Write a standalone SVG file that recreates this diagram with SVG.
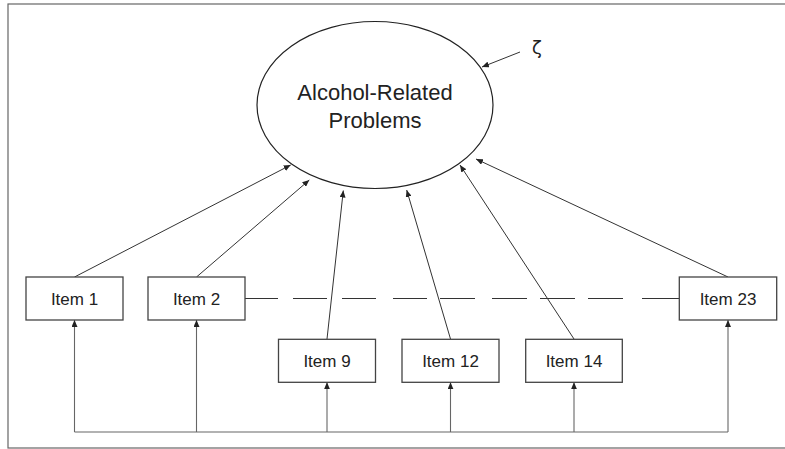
<svg xmlns="http://www.w3.org/2000/svg" width="785" height="449" viewBox="0 0 785 449">
<style>
.box{fill:#fff;stroke:#444;stroke-width:1.3}
.lbl{font-family:"Liberation Sans",Arial,sans-serif;font-size:17px;fill:#222;text-anchor:middle}
.big{font-family:"Liberation Sans",Arial,sans-serif;font-size:22px;fill:#222;text-anchor:middle}
.arr{fill:none;stroke:#333;stroke-width:1;marker-end:url(#ah)}
.up{fill:none;stroke:#666;stroke-width:1.1;marker-end:url(#ah)}
</style>
<defs>
<marker id="ah" markerUnits="userSpaceOnUse" markerWidth="8" markerHeight="6" refX="7" refY="3" orient="auto">
<path d="M0,0 L7,3 L0,6 Z" fill="#222"/>
</marker>
</defs>
<rect x="8" y="4" width="790" height="444" fill="#fff" stroke="#666" stroke-width="1.2"/>
<g id="connectors">
<line class="arr" x1="520" y1="52" x2="482" y2="67"/>
<line class="arr" x1="74.5" y1="277" x2="290.7" y2="165"/>
<line class="arr" x1="196.5" y1="277" x2="309.3" y2="180"/>
<line class="arr" x1="327" y1="339" x2="343.3" y2="190.5"/>
<line class="arr" x1="450.5" y1="339" x2="406.7" y2="190"/>
<line class="arr" x1="574" y1="339" x2="460" y2="165"/>
<line class="arr" x1="728" y1="277" x2="476" y2="159"/>
<path d="M245,298.5 H278 M293,298.5 H327 M342,298.5 H376 M393,298.5 H427 M440,298.5 H475 M492,298.5 H527 M540,298.5 H575 M588,298.5 H623 M642,298.5 H679" fill="none" stroke="#333" stroke-width="1"/>
<path d="M74.5,432 H728" fill="none" stroke="#999" stroke-width="1.5"/>
<line class="up" x1="74.5" y1="432" x2="74.5" y2="320"/>
<line class="up" x1="196.5" y1="432" x2="196.5" y2="320"/>
<line class="up" x1="327" y1="432" x2="327" y2="382.3"/>
<line class="up" x1="450.5" y1="432" x2="450.5" y2="382.3"/>
<line class="up" x1="574" y1="432" x2="574" y2="382.3"/>
<line class="up" x1="728" y1="432" x2="728" y2="320"/>
</g>
<g id="latent">
<ellipse cx="375" cy="105" rx="118" ry="83.5" fill="none" stroke="#222" stroke-width="1.2"/>
<text class="big" x="375" y="100">Alcohol-Related</text>
<text class="big" x="375" y="128">Problems</text>
</g>
<g id="zeta">
<text x="537" y="54" font-family="'DejaVu Sans',sans-serif" font-size="18" fill="#222" text-anchor="middle">ζ</text>
</g>
<g id="item1"><rect class="box" x="26" y="277" width="97" height="43"/><text class="lbl" x="74.5" y="304.5">Item 1</text></g>
<g id="item2"><rect class="box" x="148" y="277" width="97" height="43"/><text class="lbl" x="196.5" y="304.5">Item 2</text></g>
<g id="item9"><rect class="box" x="278.5" y="339.3" width="97" height="43"/><text class="lbl" x="327" y="366.7">Item 9</text></g>
<g id="item12"><rect class="box" x="402" y="339.3" width="97" height="43"/><text class="lbl" x="450.5" y="366.7">Item 12</text></g>
<g id="item14"><rect class="box" x="525.7" y="339.3" width="96.6" height="43"/><text class="lbl" x="574" y="366.7">Item 14</text></g>
<g id="item23"><rect class="box" x="679.3" y="277" width="97.4" height="43"/><text class="lbl" x="728" y="304.5">Item 23</text></g>
</svg>
